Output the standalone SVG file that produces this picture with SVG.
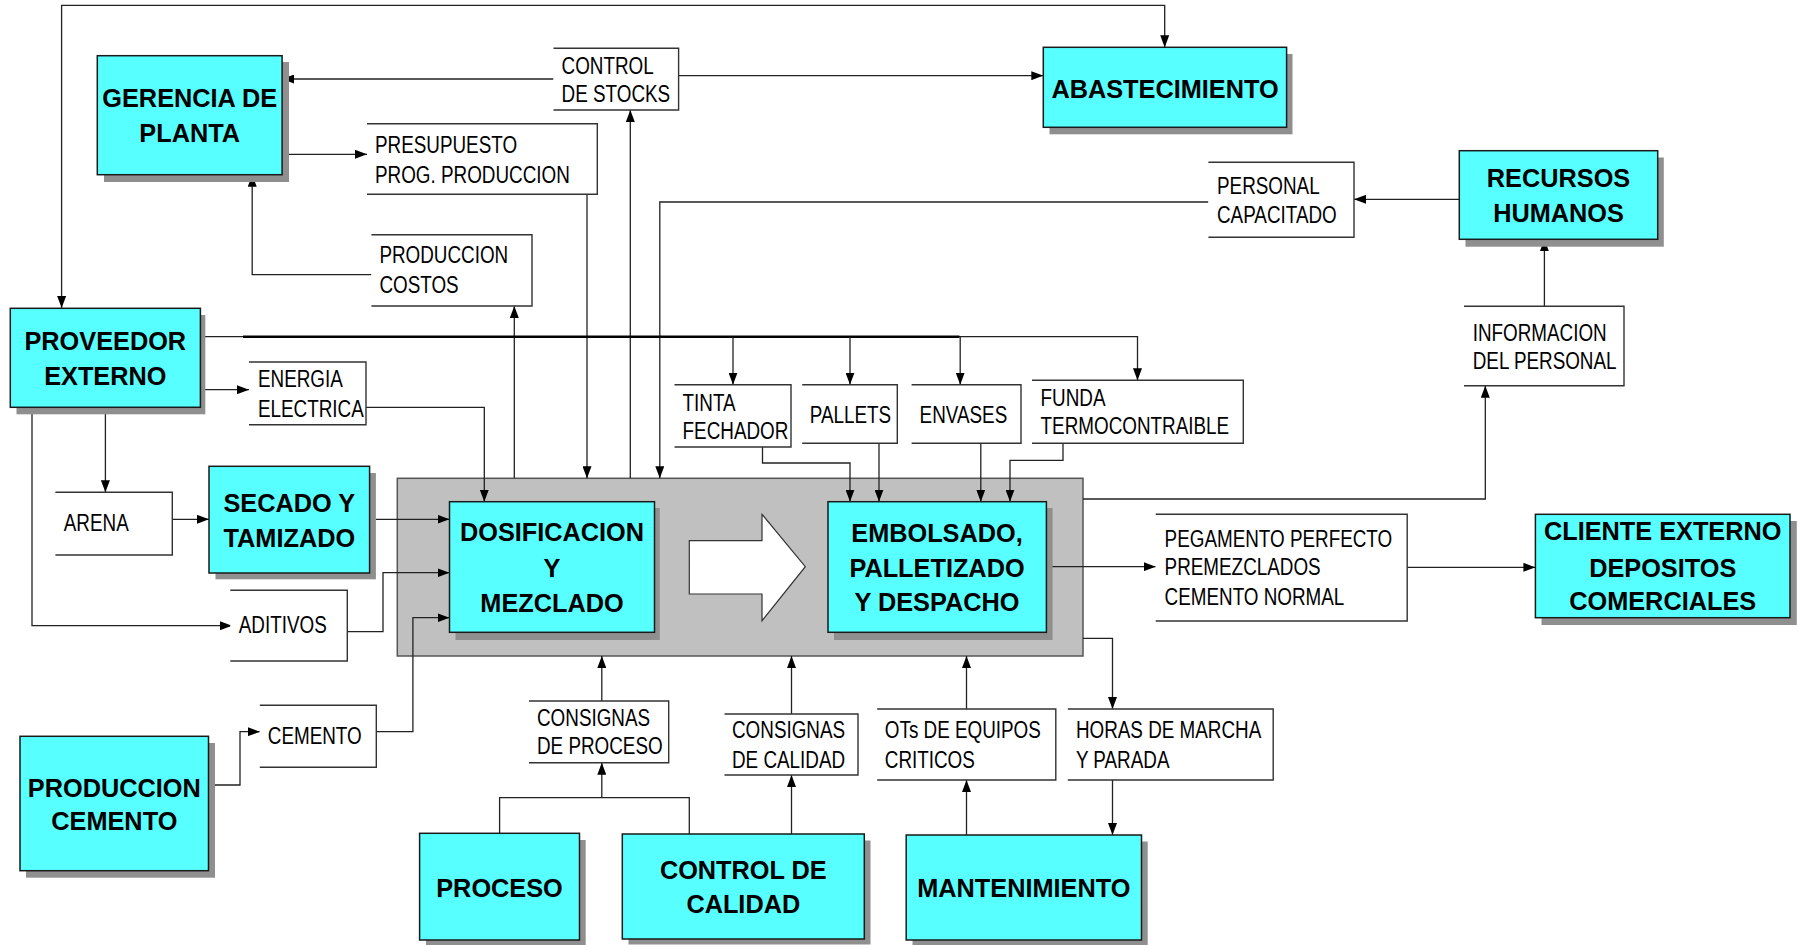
<svg xmlns="http://www.w3.org/2000/svg" width="1798" height="945" viewBox="0 0 1798 945">
<style>
.node{fill:#57FFFF;stroke:#1a1a1a;stroke-width:1.5}
.shadow{fill:#8f8f8f}
.lbl{fill:#fff;stroke:#333;stroke-width:1.4}
.bt{font-family:"Liberation Sans",Arial,sans-serif;font-weight:bold;font-size:25.3px;fill:#000;text-anchor:middle}
.rt{font-family:"Liberation Sans",Arial,sans-serif;font-size:23px;fill:#000}
.c{fill:none;stroke:#222;stroke-width:1.3}
.ca{fill:none;stroke:#222;stroke-width:1.3;marker-end:url(#ah)}
</style>
<defs>
<marker id="ah" markerUnits="userSpaceOnUse" markerWidth="12" markerHeight="9" refX="12" refY="4.5" orient="auto">
<path d="M0,0 L12,4.5 L0,9 z" fill="#000"/>
</marker>
</defs>
<rect width="1798" height="945" fill="#fff"/>

<g id="container">
<rect x="397.3" y="478.3" width="685.7" height="177.7" fill="#c0c0c0" stroke="#555" stroke-width="1.5"/>
<path d="M689.3 540.7 H762 V514.3 L805.3 566.7 L762 620.7 V594 H689.3 Z" fill="#fff" stroke="#333" stroke-width="1.2"/>
</g>

<g id="connectors">
<path class="ca" d="M600 5.3 H61.6 V308"/>
<path class="ca" d="M600 5.3 H1164.7 V47.3"/>
<path class="ca" d="M553.5 79 H282"/>
<path class="ca" d="M678.6 75.7 H1043.3"/>
<path class="ca" d="M282 154.3 H367"/>
<path class="ca" d="M587 194.3 V478.3"/>
<path class="ca" d="M630.3 478.3 V110"/>
<path class="ca" d="M514.3 478.3 V306"/>
<path class="ca" d="M371.4 274.7 H252.2 V174.7"/>
<path class="ca" d="M1208.4 202 H659.8 V478.3"/>
<path class="ca" d="M1459.3 199.3 H1354"/>
<path class="ca" d="M1544.4 306.3 V239.3"/>
<path class="ca" d="M1083 499 H1485.3 V385.7"/>
<path class="ca" d="M200.4 336.7 H1137.5 V380.3"/>
<path d="M243 336.7 H959.4" fill="none" stroke="#000" stroke-width="2.6"/>
<path class="ca" d="M733 336.7 V384.7"/>
<path class="ca" d="M850 336.7 V384.7"/>
<path class="ca" d="M960.2 336.7 V384.7"/>
<path class="ca" d="M200.4 389.7 H249"/>
<path class="ca" d="M366 407.3 H484.3 V501.7"/>
<path class="ca" d="M105.4 407.3 V492.3"/>
<path class="ca" d="M172.3 519.3 H209"/>
<path class="ca" d="M375.9 519.3 H449.5"/>
<path class="ca" d="M32 407.3 V625.7 H232"/>
<path class="ca" d="M347.3 631.7 H383 V572.7 H449.5"/>
<path class="ca" d="M376.3 731.7 H412.9 V617.7 H449.5"/>
<path class="ca" d="M208.5 785 H240 V731.7 H259.8"/>
<path class="ca" d="M762.5 447 V463 H850 V501.7"/>
<path class="ca" d="M879 443.3 V501.7"/>
<path class="ca" d="M980.8 443.3 V501.7"/>
<path class="ca" d="M1063 443.3 V460.3 H1010 V501.7"/>
<path class="ca" d="M1046.4 566.7 H1155.7"/>
<path class="ca" d="M1407.2 567.3 H1535.4"/>
<path class="ca" d="M1083 638.3 H1112.5 V709"/>
<path class="ca" d="M1112.5 780 V835"/>
<path class="ca" d="M966.5 835 V780"/>
<path class="ca" d="M966.5 709 V656"/>
<path class="ca" d="M791.5 834 V775"/>
<path class="ca" d="M791.5 714 V656"/>
<path class="ca" d="M601.8 701 V656"/>
<path class="c" d="M499.6 833.3 V797.7 H689.3 V834"/>
<path class="ca" d="M601.8 797.7 V762.7"/>
</g>

<g id="gerencia">
<rect class="shadow" x="104" y="62" width="185" height="120"/>
<rect class="node" x="97.3" y="55.7" width="184.8" height="119"/>
<text class="bt" x="189.7" y="107">GERENCIA DE</text>
<text class="bt" x="189.7" y="141.7">PLANTA</text>
</g>
<g id="abastecimiento">
<rect class="shadow" x="1049.5" y="54" width="243" height="80.3"/>
<rect class="node" x="1043.3" y="47.3" width="243.3" height="80"/>
<text class="bt" x="1165" y="97.7">ABASTECIMIENTO</text>
</g>
<g id="recursos">
<rect class="shadow" x="1465.5" y="157.5" width="198.3" height="89.2"/>
<rect class="node" x="1459.3" y="150.7" width="198.4" height="88.6"/>
<text class="bt" x="1558.5" y="187.3">RECURSOS</text>
<text class="bt" x="1558.5" y="221.7">HUMANOS</text>
</g>
<g id="proveedor">
<rect class="shadow" x="16.5" y="315" width="188.8" height="99.3"/>
<rect class="node" x="10.3" y="308.3" width="190.1" height="99"/>
<text class="bt" x="105.3" y="350">PROVEEDOR</text>
<text class="bt" x="105.3" y="385">EXTERNO</text>
</g>
<g id="secado">
<rect class="shadow" x="215.5" y="473" width="160.4" height="106.3"/>
<rect class="node" x="209" y="466.3" width="160.6" height="106.7"/>
<text class="bt" x="289.3" y="512.3">SECADO Y</text>
<text class="bt" x="289.3" y="546.7">TAMIZADO</text>
</g>
<g id="dosificacion">
<rect class="shadow" x="455.5" y="508" width="204.3" height="132"/>
<rect class="node" x="449.5" y="501.7" width="205" height="130.6"/>
<text class="bt" x="552" y="540.7">DOSIFICACION</text>
<text class="bt" x="552" y="577.3">Y</text>
<text class="bt" x="552" y="612.3">MEZCLADO</text>
</g>
<g id="embolsado">
<rect class="shadow" x="834" y="508" width="218.6" height="132"/>
<rect class="node" x="828" y="501.7" width="218.4" height="130.6"/>
<text class="bt" x="937" y="542.3">EMBOLSADO,</text>
<text class="bt" x="937" y="576.7">PALLETIZADO</text>
<text class="bt" x="937" y="611">Y DESPACHO</text>
</g>
<g id="cliente">
<rect class="shadow" x="1541.5" y="521" width="255.3" height="104"/>
<rect class="node" x="1535.4" y="514.3" width="254.6" height="103.4"/>
<text class="bt" x="1662.7" y="540">CLIENTE EXTERNO</text>
<text class="bt" x="1662.7" y="576.7">DEPOSITOS</text>
<text class="bt" x="1662.7" y="610">COMERCIALES</text>
</g>
<g id="produccion-cemento">
<rect class="shadow" x="26" y="743" width="189" height="134.7"/>
<rect class="node" x="20" y="736.3" width="188.5" height="134.4"/>
<text class="bt" x="114.3" y="796.7">PRODUCCION</text>
<text class="bt" x="114.3" y="830">CEMENTO</text>
</g>
<g id="proceso">
<rect class="shadow" x="426" y="840" width="159.7" height="105"/>
<rect class="node" x="419.6" y="833.3" width="159.9" height="106.7"/>
<text class="bt" x="499.5" y="896.7">PROCESO</text>
</g>
<g id="control-calidad">
<rect class="shadow" x="628.5" y="840.5" width="242" height="104"/>
<rect class="node" x="622.3" y="834" width="242" height="105"/>
<text class="bt" x="743.3" y="879.3">CONTROL DE</text>
<text class="bt" x="743.3" y="913.3">CALIDAD</text>
</g>
<g id="mantenimiento">
<rect class="shadow" x="912.5" y="841.5" width="235.2" height="103.5"/>
<rect class="node" x="906.2" y="835" width="235.3" height="105"/>
<text class="bt" x="1023.8" y="896.7">MANTENIMIENTO</text>
</g>

<g id="lbl-control-stocks">
<path class="lbl" d="M553.5 48.3 H678.6 V110 H553.5"/>
<text class="rt" transform="matrix(0.82 0 0 1 561.6 74)">CONTROL</text>
<text class="rt" transform="matrix(0.82 0 0 1 561.6 102)">DE STOCKS</text>
</g>
<g id="lbl-presupuesto">
<path class="lbl" d="M367 123.7 H597.3 V194.3 H367"/>
<text class="rt" transform="matrix(0.82 0 0 1 375 152.7)">PRESUPUESTO</text>
<text class="rt" transform="matrix(0.82 0 0 1 375 182.7)">PROG. PRODUCCION</text>
</g>
<g id="lbl-produccion-costos">
<path class="lbl" d="M371.4 234.7 H532 V306 H371.4"/>
<text class="rt" transform="matrix(0.82 0 0 1 379.4 263.3)">PRODUCCION</text>
<text class="rt" transform="matrix(0.82 0 0 1 379.4 292.7)">COSTOS</text>
</g>
<g id="lbl-personal">
<path class="lbl" d="M1208.4 162.3 H1354 V237.3 H1208.4"/>
<text class="rt" transform="matrix(0.82 0 0 1 1217 194)">PERSONAL</text>
<text class="rt" transform="matrix(0.82 0 0 1 1217 222.7)">CAPACITADO</text>
</g>
<g id="lbl-informacion">
<path class="lbl" d="M1464 306.3 H1624 V385.7 H1464"/>
<text class="rt" transform="matrix(0.82 0 0 1 1472.7 340.7)">INFORMACION</text>
<text class="rt" transform="matrix(0.82 0 0 1 1472.7 369.3)">DEL PERSONAL</text>
</g>
<g id="lbl-energia">
<path class="lbl" d="M249 362 H366 V424.7 H249"/>
<text class="rt" transform="matrix(0.82 0 0 1 258 386.7)">ENERGIA</text>
<text class="rt" transform="matrix(0.82 0 0 1 258 416.7)">ELECTRICA</text>
</g>
<g id="lbl-arena">
<path class="lbl" d="M55.4 492.3 H172.3 V555 H55.4"/>
<text class="rt" transform="matrix(0.82 0 0 1 63.8 531)">ARENA</text>
</g>
<g id="lbl-aditivos">
<path class="lbl" d="M230.3 590.3 H347.3 V661 H230.3"/>
<text class="rt" transform="matrix(0.82 0 0 1 238.8 633.3)">ADITIVOS</text>
</g>
<g id="lbl-cemento">
<path class="lbl" d="M259.8 705.3 H376.3 V767.3 H259.8"/>
<text class="rt" transform="matrix(0.82 0 0 1 267.8 744)">CEMENTO</text>
</g>
<g id="lbl-tinta">
<path class="lbl" d="M674.5 384.7 H791 V447 H674.5"/>
<text class="rt" transform="matrix(0.82 0 0 1 682.6 410.7)">TINTA</text>
<text class="rt" transform="matrix(0.82 0 0 1 682.6 439.3)">FECHADOR</text>
</g>
<g id="lbl-pallets">
<path class="lbl" d="M802.2 384.7 H897.3 V443.3 H802.2"/>
<text class="rt" transform="matrix(0.82 0 0 1 809.8 422.7)">PALLETS</text>
</g>
<g id="lbl-envases">
<path class="lbl" d="M911.6 384.7 H1021 V443.3 H911.6"/>
<text class="rt" transform="matrix(0.82 0 0 1 919.6 422.7)">ENVASES</text>
</g>
<g id="lbl-funda">
<path class="lbl" d="M1032 380.3 H1243.3 V443.3 H1032"/>
<text class="rt" transform="matrix(0.82 0 0 1 1040.6 406)">FUNDA</text>
<text class="rt" transform="matrix(0.82 0 0 1 1040.6 434.3)">TERMOCONTRAIBLE</text>
</g>
<g id="lbl-pegamento">
<path class="lbl" d="M1155.7 514.3 H1407.2 V621 H1155.7"/>
<text class="rt" transform="matrix(0.82 0 0 1 1164.6 546.7)">PEGAMENTO PERFECTO</text>
<text class="rt" transform="matrix(0.82 0 0 1 1164.6 575)">PREMEZCLADOS</text>
<text class="rt" transform="matrix(0.82 0 0 1 1164.6 605)">CEMENTO NORMAL</text>
</g>
<g id="lbl-consignas-proceso">
<path class="lbl" d="M529 701 H668.7 V762.7 H529"/>
<text class="rt" transform="matrix(0.82 0 0 1 537 726)">CONSIGNAS</text>
<text class="rt" transform="matrix(0.82 0 0 1 537 754.3)">DE PROCESO</text>
</g>
<g id="lbl-consignas-calidad">
<path class="lbl" d="M724.5 714 H858 V775 H724.5"/>
<text class="rt" transform="matrix(0.82 0 0 1 732 738.3)">CONSIGNAS</text>
<text class="rt" transform="matrix(0.82 0 0 1 732 767.7)">DE CALIDAD</text>
</g>
<g id="lbl-ots">
<path class="lbl" d="M877.2 709 H1055.8 V780 H877.2"/>
<text class="rt" transform="matrix(0.82 0 0 1 884.8 738.3)">OTs DE EQUIPOS</text>
<text class="rt" transform="matrix(0.82 0 0 1 884.8 767.7)">CRITICOS</text>
</g>
<g id="lbl-horas">
<path class="lbl" d="M1067.8 709 H1273.2 V780 H1067.8"/>
<text class="rt" transform="matrix(0.82 0 0 1 1075.9 738.3)">HORAS DE MARCHA</text>
<text class="rt" transform="matrix(0.82 0 0 1 1075.9 767.7)">Y PARADA</text>
</g>
</svg>
